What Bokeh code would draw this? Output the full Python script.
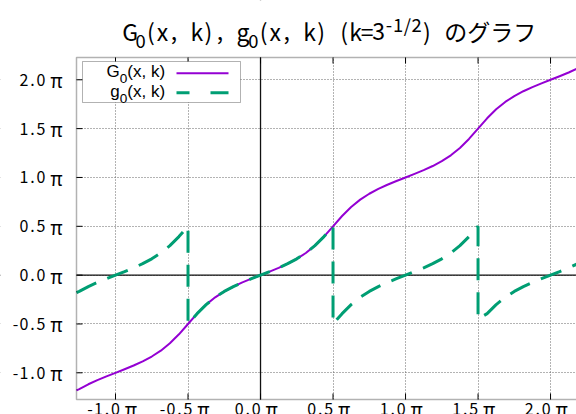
import math
from bokeh.plotting import figure
from bokeh.models import Range1d, Span, Label, BoxAnnotation, Arrow, FixedTicker
from bokeh.embed import file_html
from bokeh.resources import INLINE

# ---------------- data (x and values in units of pi) ----------------
x_pi = [-1.269, -1.25, -1.1875, -1.125, -1.0625, -1.0, -0.9375, -0.875, -0.8125, -0.75,
        -0.6875, -0.625, -0.5625, -0.5, -0.4375, -0.375, -0.3125, -0.25, -0.1875, -0.125,
        -0.0625, 0.0, 0.0625, 0.125, 0.1875, 0.25, 0.3125, 0.375, 0.4375, 0.5,
        0.5625, 0.625, 0.6875, 0.75, 0.8125, 0.875, 0.9375, 1.0, 1.0625, 1.125,
        1.1875, 1.25, 1.3125, 1.375, 1.4375, 1.5, 1.5625, 1.625, 1.6875, 1.75,
        1.8125, 1.875, 1.9375, 2.0, 2.0625, 2.125, 2.1875, 2.25]
G0 = [-1.18, -1.1667, -1.1172, -1.0747, -1.0364, -1.0, -0.9636, -0.9253, -0.8828, -0.8333,
      -0.7732, -0.6981, -0.6056, -0.5, -0.3944, -0.3019, -0.2268, -0.1667, -0.1172, -0.0747,
      -0.0364, 0.0, 0.0364, 0.0747, 0.1172, 0.1667, 0.2268, 0.3019, 0.3944, 0.5,
      0.6056, 0.6981, 0.7732, 0.8333, 0.8828, 0.9253, 0.9636, 1.0, 1.0364, 1.0747,
      1.1172, 1.1667, 1.2268, 1.3019, 1.3944, 1.5, 1.6056, 1.6981, 1.7732, 1.8333,
      1.8828, 1.9253, 1.9636, 2.0, 2.0364, 2.0747, 2.1172, 2.1667]
g0_x = [-1.269, -1.25, -1.1875, -1.125, -1.0625, -1.0, -0.9375, -0.875, -0.8125, -0.75,
        -0.6875, -0.625, -0.5625, -0.5, -0.5, -0.4375, -0.375, -0.3125, -0.25, -0.1875,
        -0.125, -0.0625, 0.0, 0.0625, 0.125, 0.1875, 0.25, 0.3125, 0.375, 0.4375,
        0.5, 0.5, 0.5625, 0.625, 0.6875, 0.75, 0.8125, 0.875, 0.9375, 1.0,
        1.0625, 1.125, 1.1875, 1.25, 1.3125, 1.375, 1.4375, 1.5, 1.5, 1.5625,
        1.625, 1.6875, 1.75, 1.8125, 1.875, 1.9375, 2.0, 2.0625, 2.125, 2.1875, 2.25]
g0_y = [-0.18, -0.1667, -0.1172, -0.0747, -0.0364, 0.0, 0.0364, 0.0747, 0.1172, 0.1667,
        0.2268, 0.3019, 0.3944, 0.5, -0.5, -0.3944, -0.3019, -0.2268, -0.1667, -0.1172,
        -0.0747, -0.0364, 0.0, 0.0364, 0.0747, 0.1172, 0.1667, 0.2268, 0.3019, 0.3944,
        0.5, -0.5, -0.3944, -0.3019, -0.2268, -0.1667, -0.1172, -0.0747, -0.0364, 0.0,
        0.0364, 0.0747, 0.1172, 0.1667, 0.2268, 0.3019, 0.3944, 0.5, -0.45, -0.3944,
        -0.3019, -0.2268, -0.1667, -0.1172, -0.0747, -0.0364, 0.0, 0.0364, 0.0747, 0.1172, 0.1667]

x_ticks = [-1.0, -0.5, 0.0, 0.5, 1.0, 1.5, 2.0]
x_tick_labels = ["-1.0π", "-0.5π", "0.0π", "0.5π", "1.0π", "1.5π", "2.0π"]
y_ticks = [-1.0, -0.5, 0.0, 0.5, 1.0, 1.5, 2.0]
y_tick_labels = ["-1.0π", "-0.5π", "0.0π", "0.5π", "1.0π", "1.5π", "2.0π"]

title_parts = [("G", "main"), ("0", "sub"), ("(x, k), g", "main"), ("0", "sub"),
               ("(x, k) (k=3", "main"), ("-1/2", "sup"), (") のグラフ", "main")]
legend_names = [("G", "0", "(x, k)"), ("g", "0", "(x, k)")]

# plotting area (gnuplot ranges, units of pi)
X_LO, X_HI = -1.269, 2.179
Y_LO, Y_HI = -4 / math.pi, 7 / math.pi

# ---------------- layout constants (pixels) ----------------
W, H = 576, 414
AREA_LEFT, AREA_TOP, AREA_BOTTOM = 76, 57, 399
PX_PER_X = (W - AREA_LEFT) / (X_HI - X_LO)
PX_PER_Y = (AREA_BOTTOM - AREA_TOP) / (Y_HI - Y_LO)
xr = Range1d(X_LO - AREA_LEFT / PX_PER_X, X_HI)
yr = Range1d(Y_LO - (H - AREA_BOTTOM) / PX_PER_Y, Y_HI + AREA_TOP / PX_PER_Y)

CJK = "Noto Sans CJK JP"
SANS = "Liberation Sans"

p = figure(width=W, height=H, output_backend="svg", toolbar_location=None, title=None,
           x_range=xr, y_range=yr, x_axis_location=None, y_axis_location=None,
           min_border_left=0, min_border_right=0, min_border_top=0, min_border_bottom=0)
p.outline_line_color = None
p.background_fill_color = "white"
p.border_fill_color = "white"

# grid
p.xgrid.ticker = FixedTicker(ticks=x_ticks)
p.ygrid.ticker = FixedTicker(ticks=y_ticks)
for g in [p.xgrid[0], p.ygrid[0]]:
    g.grid_line_color = "#666666"
    g.grid_line_dash = "1 2"
    g.grid_line_width = 1

# zero axes
p.add_layout(Span(location=0, dimension="height", line_color="#111111", line_width=1.3, level="underlay"))
p.add_layout(Span(location=0, dimension="width", line_color="#111111", line_width=1.3, level="underlay"))

# white covers outside the plotting area (hide grid / zero axes there)
for kw in [dict(bottom=Y_HI), dict(top=Y_LO), dict(right=X_LO)]:
    p.add_layout(BoxAnnotation(fill_color="white", fill_alpha=1.0, line_color=None,
                               level="underlay", **kw))

# curves
p.line(x_pi, G0, line_color="#9400D3", line_width=2, line_join="round")
p.line(g0_x, g0_y, line_color="#009E73", line_width=3, line_dash="22 12")

# border (left, top, bottom; right side lies beyond the page edge)
p.add_layout(BoxAnnotation(left=X_LO, right=X_HI + 0.05, bottom=Y_LO, top=Y_HI,
                           fill_alpha=0, line_color="black", line_width=1.5))
# inward tick marks
tx, ty = 6 / PX_PER_X, 6 / PX_PER_Y
p.segment(x0=x_ticks, y0=[Y_HI] * len(x_ticks), x1=x_ticks, y1=[Y_HI - ty] * len(x_ticks),
          line_color="black", line_width=1)
p.segment(x0=x_ticks, y0=[Y_LO] * len(x_ticks), x1=x_ticks, y1=[Y_LO + ty] * len(x_ticks),
          line_color="black", line_width=1)
p.segment(x0=[X_LO] * len(y_ticks), y0=y_ticks, x1=[X_LO + tx] * len(y_ticks), y1=y_ticks,
          line_color="black", line_width=1)

# ---------------- monospace-like tick labels ----------------
HALF = 8.5
def cell_w(ch):
    return 3 * HALF if ch == "π" else HALF

def cells(text):
    out, cur = [], 0.0
    for ch in text:
        w = cell_w(ch)
        c = cur + w / 2 - (1.5 if ch == "π" else 0.0)
        out.append((ch, c))
        cur += w
    return out, cur

def txt(**kw):
    base = dict(text_color="black", text_align="center", text_baseline="middle")
    base.update(kw)
    p.add_layout(Label(**base))

def fsize(ch):
    return "19px" if ch == "π" else "16px"

for t, lbl in zip(y_ticks, y_tick_labels):
    cs, total = cells(lbl)
    right = 70.25
    for ch, c in cs:
        txt(x=right - total + c, y=t, x_units="screen", y_units="data",
            text=ch, text_font=CJK, text_font_size=fsize(ch))

for t, lbl in zip(x_ticks, x_tick_labels):
    cs, total = cells(lbl)
    for ch, c in cs:
        txt(x=t, x_offset=c - total / 2, y=H - 408, x_units="data", y_units="screen",
            text=ch, text_font=CJK, text_font_size=fsize(ch))

# ---------------- title (monospace cells, sub/superscripts) ----------------
MAIN, SMALL = 23, 18.4
mid = {"main": H - 30.6, "sub": H - 40.3, "sup": H - 24.3}
cur = 124.0
for text, kind in title_parts:
    for ch in text:
        if kind == "main":
            w = MAIN if ch in "のグラフ" else MAIN / 2
            size = MAIN
        else:
            w = SMALL / 2
            size = SMALL
        if ch != " ":
            txt(x=cur + w / 2, y=mid[kind], x_units="screen", y_units="screen",
                text=ch, text_font=CJK, text_font_size=f"{size}px")
        cur += w

# ---------------- legend ----------------
p.add_layout(BoxAnnotation(left=82, right=240, top=H - 61, bottom=H - 102,
                           left_units="screen", right_units="screen",
                           top_units="screen", bottom_units="screen",
                           fill_color="white", fill_alpha=1.0,
                           line_color="black", line_width=1))

row_mid = [71.2, 90.9]
first_x = [106.0, 109.7]
for (a, s, b), ym, x0 in zip(legend_names, row_mid, first_x):
    txt(x=x0, y=H - ym, x_units="screen", y_units="screen", text=a,
        text_font=SANS, text_font_size="17px", text_align="left")
    txt(x=119.2, y=H - ym - 7.2, x_units="screen", y_units="screen", text=s,
        text_font=SANS, text_font_size="13.6px", text_align="left")
    txt(x=126.8, y=H - ym, x_units="screen", y_units="screen", text=b,
        text_font=SANS, text_font_size="17px", text_align="left")

p.add_layout(Arrow(x_start=176, y_start=H - 72.7, x_end=228, y_end=H - 72.7,
                   start_units="screen", end_units="screen", end=None,
                   line_color="#9400D3", line_width=2))
p.add_layout(Arrow(x_start=176, y_start=H - 92.3, x_end=189, y_end=H - 92.3,
                   start_units="screen", end_units="screen", end=None,
                   line_color="#009E73", line_width=3))
p.add_layout(Arrow(x_start=210, y_start=H - 92.3, x_end=228, y_end=H - 92.3,
                   start_units="screen", end_units="screen", end=None,
                   line_color="#009E73", line_width=3))

open("out.html", "w").write(file_html(p, INLINE))
